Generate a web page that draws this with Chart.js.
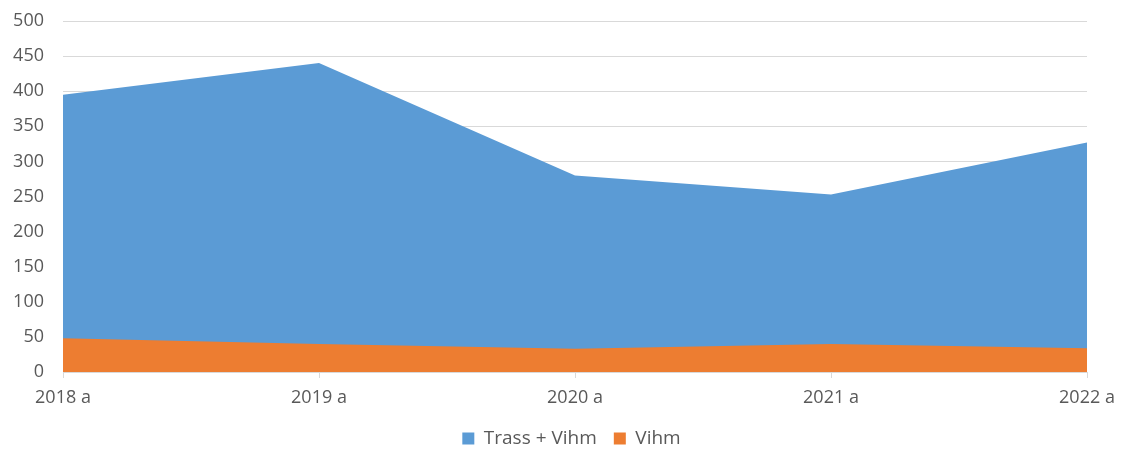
<!DOCTYPE html>
<html>
<head>
<meta charset="utf-8">
<script src="https://cdn.jsdelivr.net/npm/chart.js@4.4.1/dist/chart.umd.min.js"></script>
<style>
  html, body { margin: 0; padding: 0; background: #ffffff; }
  #wrap { width: 1125px; height: 449px; }
</style>
</head>
<body>
<div id="wrap"><canvas id="chart" width="1125" height="449"></canvas></div>
<script>
// Andmed graafikult
const aastad = ['2018 a', '2019 a', '2020 a', '2021 a', '2022 a'];
const trassVihm = [395, 440, 280, 253, 327];
const vihm = [48, 40, 33, 40, 34];
const yTicks = [0, 50, 100, 150, 200, 250, 300, 350, 400, 450, 500];

const tekst = '#595959';
const font = { family: '"Open Sans", "Liberation Sans", sans-serif', size: 18 };

// legend on originaalis veidi paremal
const legendNihe = {
    id: 'legendNihe',
    afterLayout(chart) {
        chart.legend.left += 28;
        chart.legend.right += 28;
    }
};

new Chart(document.getElementById('chart'), {
    type: 'line',
    data: {
        labels: aastad,
        datasets: [
            {
                label: 'Trass + Vihm',
                data: trassVihm,
                backgroundColor: '#5B9BD5',
                borderColor: '#5B9BD5',
                borderWidth: 0,
                pointRadius: 0,
                fill: 'origin',
                order: 1
            },
            {
                label: 'Vihm',
                data: vihm,
                backgroundColor: '#ED7D31',
                borderColor: '#ED7D31',
                borderWidth: 0,
                pointRadius: 0,
                fill: 'origin',
                order: 0
            }
        ]
    },
    plugins: [legendNihe],
    options: {
        responsive: false,
        animation: false,
        layout: { padding: { top: 21, right: 38, left: 0, bottom: -9 } },
        plugins: {
            tooltip: { enabled: false },
            legend: {
                position: 'bottom',
                labels: {
                    color: tekst,
                    font: { family: font.family, size: 19, lineHeight: 1 },
                    boxWidth: 12,
                    boxHeight: 12,
                    padding: 17,
                    sort: (a, b) => a.datasetIndex - b.datasetIndex
                }
            }
        },
        scales: {
            x: {
                offset: false,
                grid: {
                    display: true,
                    drawOnChartArea: false,
                    drawTicks: true,
                    tickLength: 6,
                    color: '#d9d9d9'
                },
                border: { color: '#d9d9d9' },
                ticks: { color: tekst, font: font, padding: 9, maxRotation: 0 },
                afterFit: (s) => { s.height = 40; }
            },
            y: {
                min: 0,
                max: 500,
                afterBuildTicks: (s) => { s.ticks = yTicks.map(v => ({ value: v })); },
                grid: { color: '#d9d9d9', drawTicks: false },
                border: { display: false },
                ticks: { color: tekst, font: font, padding: 19 },
                afterFit: (s) => { s.width = 63; s.paddingTop = 0; s.paddingBottom = 0; }
            }
        }
    }
});
</script>
</body>
</html>
